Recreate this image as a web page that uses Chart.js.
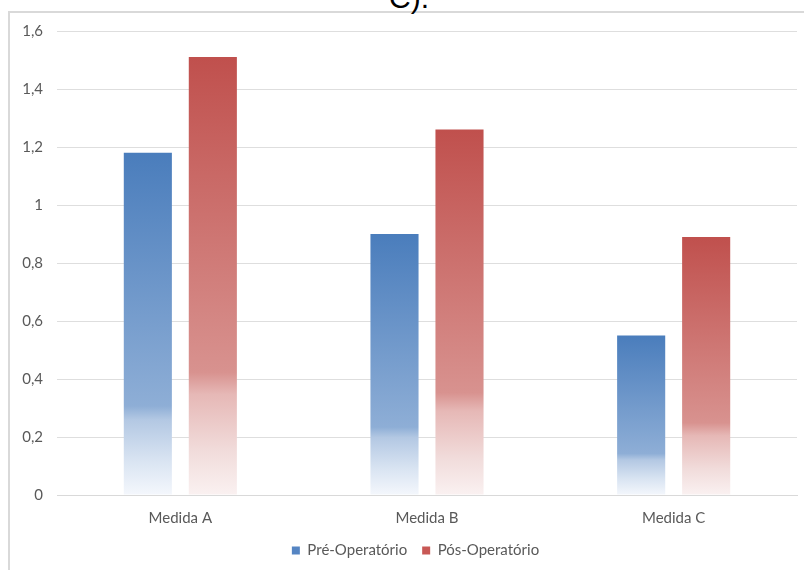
<!DOCTYPE html>
<html>
<head>
<meta charset="utf-8">
<script src="https://cdn.jsdelivr.net/npm/chart.js@4.4.1/dist/chart.umd.min.js"></script>
<style>
  html, body { margin: 0; padding: 0; background: #ffffff; }
  #wrap { position: relative; width: 804px; height: 570px; overflow: hidden; background: #fff; }
  #frame { position: absolute; left: 8px; top: 11px; width: 900px; height: 700px; border-left: 2px solid #d9d9d9; border-top: 2px solid #d9d9d9; box-sizing: border-box; }
  #title { position: absolute; left: 389px; top: -17px; font-family: "Liberation Sans", Arial, sans-serif; font-size: 30px; line-height: 30px; color: #000; white-space: nowrap; }
  #cv { position: absolute; left: 0; top: 0; }
</style>
</head>
<body>
<div id="wrap">
  <div id="frame"></div>
  <div id="title">C).</div>
  <canvas id="cv" width="804" height="570"></canvas>
</div>
<script>
const categories = ['Medida A', 'Medida B', 'Medida C'];
const seriesNames = ['Pré-Operatório', 'Pós-Operatório'];
const preValues = [1.18, 0.90, 0.55];
const posValues = [1.51, 1.26, 0.89];
const yTickLabels = ['0', '0,2', '0,4', '0,6', '0,8', '1', '1,2', '1,4', '1,6'];
const legendColors = ['#5585c3', '#c85855'];

const FONT = 'Lato, "Open Sans", sans-serif';
const FS = 15;
const TEXT = '#595959';

function gradFill(stops, solid) {
  return function (ctx) {
    const chart = ctx.chart;
    if (!chart.chartArea || ctx.type !== 'data') return solid;
    const y = chart.scales.y;
    const top = y.getPixelForValue(ctx.raw);
    const base = y.getPixelForValue(0);
    if (!isFinite(top) || !isFinite(base) || top === base) return solid;
    const g = chart.ctx.createLinearGradient(0, top, 0, base);
    stops.forEach(s => g.addColorStop(s[0], s[1]));
    return g;
  };
}

const blueStops = [[0, '#4a7dbc'], [0.74, '#8eaed6'], [0.78, '#b3c8e3'], [0.9, '#d9e4f2'], [1, '#f4f7fc']];
const redStops = [[0, '#c0504d'], [0.72, '#d8928f'], [0.77, '#e6b8b6'], [0.9, '#f1dcdb'], [1, '#faf1f1']];

const legendShift = {
  id: 'legendShift',
  afterLayout(chart) {
    if (chart.legend) { chart.legend.left += 17; chart.legend.right += 17; }
  }
};

new Chart(document.getElementById('cv'), {
  type: 'bar',
  data: {
    labels: categories,
    datasets: [
      { label: seriesNames[0], data: preValues, backgroundColor: gradFill(blueStops, legendColors[0]), borderWidth: 0 },
      { label: seriesNames[1], data: posValues, backgroundColor: gradFill(redStops, legendColors[1]), borderWidth: 0 }
    ]
  },
  plugins: [legendShift],
  options: {
    responsive: false,
    animation: false,
    devicePixelRatio: 1,
    categoryPercentage: 0.527,
    barPercentage: 0.74,
    layout: { padding: { left: 0, right: 7, top: 31, bottom: 2 } },
    plugins: {
      title: { display: false },
      tooltip: { enabled: false },
      legend: {
        position: 'bottom',
        labels: {
          boxWidth: 8, boxHeight: 8, padding: 15,
          color: TEXT,
          font: { family: FONT, size: FS },
          generateLabels: (chart) => chart.data.datasets.map((ds, i) => ({
            text: ds.label,
            fillStyle: legendColors[i],
            strokeStyle: legendColors[i],
            lineWidth: 0,
            hidden: !chart.isDatasetVisible(i),
            datasetIndex: i,
            fontColor: TEXT
          }))
        }
      }
    },
    scales: {
      x: {
        afterFit: (s) => { s.height = 33; },
        grid: { display: false, drawTicks: false },
        border: { display: true, color: '#d9d9d9', width: 1 },
        ticks: { color: TEXT, font: { family: FONT, size: FS }, padding: 14 }
      },
      y: {
        min: 0, max: 1.6,
        afterFit: (s) => { s.width = 57; },
        grid: { color: '#dedede', lineWidth: 1, drawTicks: false },
        border: { display: false },
        ticks: {
          stepSize: 0.2,
          padding: 14,
          color: TEXT,
          font: { family: FONT, size: FS },
          callback: (v, i) => yTickLabels[i]
        }
      }
    }
  }
});
</script>
</body>
</html>
